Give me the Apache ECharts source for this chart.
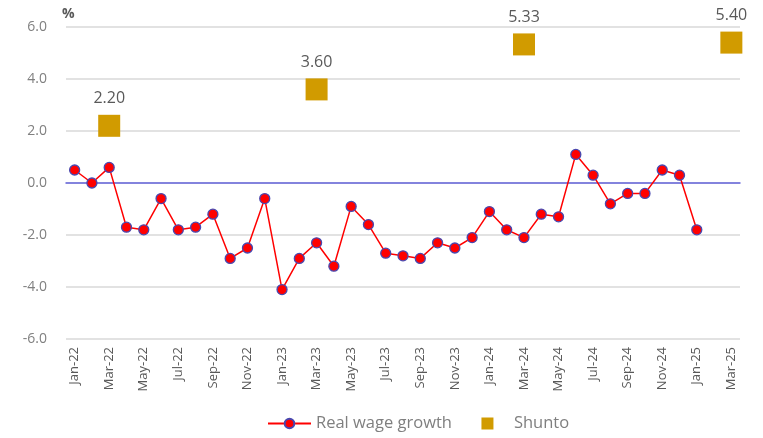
<!DOCTYPE html>
<html>
<head>
<meta charset="utf-8">
<script src="https://cdn.jsdelivr.net/npm/echarts@6/dist/echarts.min.js"></script>
<style>
  html, body { margin: 0; padding: 0; background: #fff; }
  #chart { width: 763px; height: 438px; }
</style>
</head>
<body>
<div id="chart"></div>
<script>
const months = [
  'Jan-22','Feb-22','Mar-22','Apr-22','May-22','Jun-22','Jul-22','Aug-22','Sep-22','Oct-22','Nov-22','Dec-22',
  'Jan-23','Feb-23','Mar-23','Apr-23','May-23','Jun-23','Jul-23','Aug-23','Sep-23','Oct-23','Nov-23','Dec-23',
  'Jan-24','Feb-24','Mar-24','Apr-24','May-24','Jun-24','Jul-24','Aug-24','Sep-24','Oct-24','Nov-24','Dec-24',
  'Jan-25','Feb-25','Mar-25'
];

const realWage = [
  0.5, 0.0, 0.6, -1.7, -1.8, -0.6, -1.8, -1.7, -1.2, -2.9, -2.5, -0.6,
  -4.1, -2.9, -2.3, -3.2, -0.9, -1.6, -2.7, -2.8, -2.9, -2.3, -2.5, -2.1,
  -1.1, -1.8, -2.1, -1.2, -1.3, 1.1, 0.3, -0.8, -0.4, -0.4, 0.5, 0.3,
  -1.8, null, null
];

const shunto = [
  null, null, 2.20, null, null, null, null, null, null, null, null, null,
  null, null, 3.60, null, null, null, null, null, null, null, null, null,
  null, null, 5.33, null, null, null, null, null, null, null, null, null,
  null, null, 5.40
];

const font = 'Open Sans';
const chart = echarts.init(document.getElementById('chart'));

// square centred in a 43x12 legend box (the two zero-length lines only set the box size)
const squareIcon = 'path://M0,0L0,0M43,12L43,12M15.5,0H27.5V12H15.5Z';

chart.setOption({
    animation: false,
    grid: {
        left: 66,
        right: 23,
        top: 27,
        bottom: 99
    },
    legend: {
        left: 267,
        bottom: 6,
        padding: 0,
        itemWidth: 43,
        itemHeight: 12,
        itemGap: 14,
        textStyle: { color: '#7f7f7f', fontSize: 16.5, fontFamily: font },
        data: [
            { name: 'Real wage growth' },
            { name: 'Shunto', icon: squareIcon }
        ]
    },
    xAxis: [
        {
            // the blue line at zero
            type: 'category',
            data: months,
            boundaryGap: true,
            axisLine: { show: true, onZero: true, lineStyle: { color: '#6464dc', width: 1.5 } },
            axisTick: { show: false },
            axisLabel: { show: false }
        },
        {
            // month labels at the bottom
            type: 'category',
            data: months,
            position: 'bottom',
            boundaryGap: true,
            axisLine: { show: false },
            axisTick: { show: false },
            axisLabel: {
                rotate: 90,
                interval: 1,
                color: '#595959',
                fontSize: 13,
                fontFamily: font,
                margin: 8
            }
        }
    ],
    yAxis: {
        type: 'value',
        name: '%',
        nameLocation: 'end',
        nameGap: 6,
        nameTextStyle: { color: '#595959', fontSize: 14, fontFamily: font, fontWeight: 'bold', align: 'left', padding: [0, 0, 0, -4] },
        min: -6,
        max: 6,
        interval: 2,
        axisLine: { show: false },
        axisTick: { show: false },
        axisLabel: {
            color: '#808080',
            fontSize: 14,
            fontFamily: font,
            margin: 19,
            formatter: v => v.toFixed(1)
        },
        splitLine: { lineStyle: { color: '#d9d9d9', width: 1.5 } }
    },
    series: [
        {
            name: 'Real wage growth',
            type: 'line',
            data: realWage,
            connectNulls: false,
            symbol: 'circle',
            symbolSize: 10,
            lineStyle: { color: '#ff0000', width: 1.5 },
            itemStyle: { color: '#ff0000', borderColor: '#4848b0', borderWidth: 1.3 },
            z: 3
        },
        {
            name: 'Shunto',
            type: 'scatter',
            data: shunto,
            symbol: 'rect',
            symbolSize: 22,
            itemStyle: { color: '#d19b00', opacity: 1 },
            label: {
                show: true,
                position: 'top',
                distance: 8,
                color: '#595959',
                fontSize: 16,
                fontFamily: font,
                formatter: p => p.value.toFixed(2)
            },
            z: 2
        }
    ]
});
</script>
</body>
</html>
